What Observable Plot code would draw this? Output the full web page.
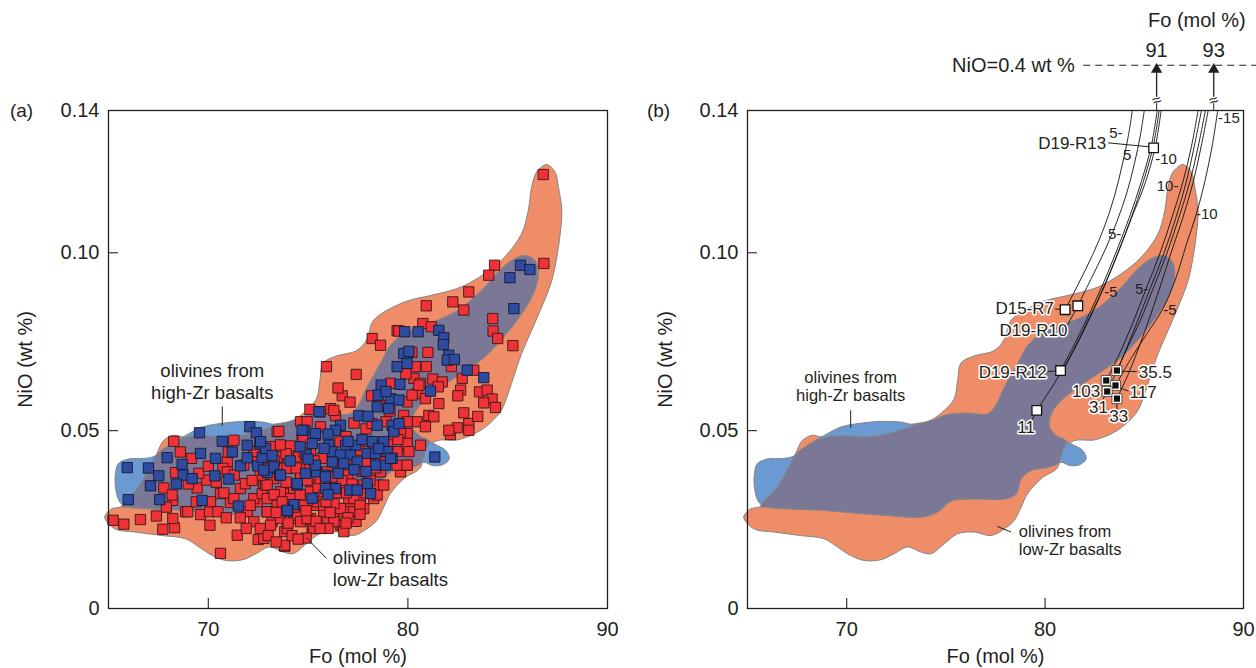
<!DOCTYPE html>
<html><head><meta charset="utf-8">
<script src="https://cdn.jsdelivr.net/npm/d3@7"></script>
<script src="https://cdn.jsdelivr.net/npm/@observablehq/plot@0.6"></script>
<style>
body{margin:0;background:#fff;}
#wrap{position:relative;width:1256px;height:668px;overflow:hidden;}
#wrap svg{position:absolute;top:0;}
</style></head><body><div id="wrap"></div>
<script>
// ---------- axes ----------
const yTicks = [0, 0.05, 0.10, 0.14];
const yTickLabels = ["0", "0.05", "0.10", "0.14"];
const xTicks = [70, 80, 90];
const xTickLabels = ["70", "80", "90"];
const innerXTicks = [70, 80];
const innerYTicks = [0.05, 0.10];
const xTitle = "Fo (mol %)";
const yTitle = "NiO (wt %)";

// ---------- fields [Fo, NiO] ----------
const lowZrField = [[64.81,0.0257],[65.15,0.0280],[65.66,0.0287],[66.50,0.0341],[67.17,0.0407],[67.42,0.0435],[67.76,0.0472],[68.27,0.0487],[68.77,0.0482],[69.70,0.0501],[71.38,0.0515],[72.73,0.0515],[73.40,0.0519],[74.24,0.0529],[74.92,0.0557],[75.42,0.0590],[75.59,0.0640],[75.76,0.0690],[76.43,0.0710],[77.44,0.0725],[77.95,0.0757],[78.28,0.0810],[79.80,0.0861],[81.14,0.0880],[82.15,0.0894],[82.83,0.0908],[83.84,0.0941],[84.85,0.0988],[85.69,0.1053],[86.03,0.1119],[86.20,0.1185],[86.45,0.1227],[86.95,0.1248],[87.37,0.1227],[87.54,0.1185],[87.71,0.1119],[87.63,0.1053],[87.46,0.0988],[87.21,0.0922],[86.70,0.0847],[86.20,0.0782],[85.69,0.0716],[85.35,0.0660],[85.02,0.0604],[84.68,0.0557],[84.17,0.0524],[83.50,0.0496],[82.49,0.0474],[81.48,0.0472],[80.81,0.0444],[80.64,0.0397],[79.80,0.0365],[79.12,0.0323],[78.79,0.0285],[78.45,0.0248],[77.95,0.0224],[77.27,0.0205],[76.43,0.0215],[75.59,0.0210],[74.92,0.0182],[74.24,0.0154],[73.74,0.0159],[73.06,0.0173],[72.39,0.0154],[71.72,0.0137],[70.88,0.0135],[70.20,0.0149],[69.53,0.0173],[68.86,0.0196],[67.68,0.0205],[66.33,0.0215],[65.32,0.0224]];
const highZrField = [[65.49,0.0407],[65.99,0.0420],[66.83,0.0422],[67.34,0.0429],[68.01,0.0458],[68.86,0.0486],[69.70,0.0510],[70.71,0.0521],[71.72,0.0526],[72.73,0.0524],[73.40,0.0517],[74.41,0.0531],[75.08,0.0545],[76.09,0.0549],[77.10,0.0547],[77.52,0.0571],[77.95,0.0622],[78.62,0.0688],[79.12,0.0739],[79.80,0.0772],[80.81,0.0796],[81.48,0.0810],[82.49,0.0838],[83.33,0.0875],[84.01,0.0913],[84.68,0.0955],[85.35,0.0983],[85.94,0.0992],[86.36,0.0978],[86.53,0.0941],[86.28,0.0885],[85.69,0.0828],[84.85,0.0767],[83.84,0.0707],[82.66,0.0660],[81.65,0.0622],[80.81,0.0585],[80.30,0.0547],[80.22,0.0510],[80.56,0.0486],[81.31,0.0463],[81.90,0.0444],[82.07,0.0421],[81.73,0.0404],[81.23,0.0402],[80.81,0.0411],[80.13,0.0397],[79.29,0.0388],[78.79,0.0365],[78.54,0.0322],[77.95,0.0308],[76.43,0.0308],[75.25,0.0302],[74.58,0.0271],[73.74,0.0257],[72.22,0.0261],[70.54,0.0268],[68.86,0.0276],[67.17,0.0280],[65.99,0.0285],[65.57,0.0299],[65.35,0.0341],[65.35,0.0379]];
const overlapField = [[65.66,0.0287],[66.50,0.0341],[67.17,0.0407],[67.42,0.0433],[68.01,0.0458],[68.86,0.0480],[69.70,0.0486],[70.88,0.0482],[72.05,0.0491],[72.89,0.0505],[73.40,0.0514],[74.41,0.0531],[75.08,0.0545],[76.09,0.0549],[77.10,0.0547],[77.52,0.0571],[77.95,0.0622],[78.62,0.0688],[79.12,0.0739],[79.80,0.0772],[80.81,0.0796],[81.48,0.0810],[82.49,0.0838],[83.33,0.0875],[84.01,0.0913],[84.68,0.0955],[85.35,0.0983],[85.94,0.0992],[86.36,0.0978],[86.53,0.0941],[86.28,0.0885],[85.69,0.0828],[84.85,0.0767],[83.84,0.0707],[82.66,0.0660],[81.65,0.0622],[80.81,0.0585],[80.30,0.0547],[80.22,0.0510],[80.56,0.0486],[81.06,0.0471],[80.89,0.0444],[80.64,0.0407],[80.13,0.0397],[79.29,0.0388],[78.79,0.0365],[78.54,0.0322],[77.95,0.0308],[76.43,0.0308],[75.25,0.0302],[74.58,0.0271],[73.74,0.0257],[72.22,0.0261],[70.54,0.0268],[68.86,0.0276],[67.17,0.0280],[65.99,0.0285]];

// ---------- panel (a) olivine analyses [Fo, NiO] ----------
const lowZrOlivines = [[65.23,0.0248],[65.77,0.0237],[67.72,0.0223],[68.31,0.0227],[68.22,0.0253],[68.27,0.0470],[69.16,0.0422],[68.36,0.0382],[67.77,0.0339],[68.22,0.0304],[69.44,0.0339],[69.91,0.0361],[68.86,0.0272],[69.61,0.0264],[70.06,0.0272],[70.08,0.0234],[70.61,0.0155],[71.45,0.0206],[72.50,0.0194],[73.83,0.0175],[71.28,0.0473],[70.95,0.0412],[70.73,0.0394],[70.61,0.0323],[71.11,0.0298],[71.95,0.0272],[71.61,0.0337],[72.45,0.0300],[72.41,0.0441],[72.78,0.0349],[72.28,0.0244],[72.95,0.0272],[73.45,0.0497],[73.50,0.0426],[73.87,0.0323],[73.83,0.0216],[74.70,0.0478],[74.28,0.0422],[74.62,0.0375],[75.21,0.0347],[74.62,0.0248],[75.21,0.0225],[75.29,0.0290],[74.28,0.0253],[73.20,0.0244],[73.62,0.0394],
[69.52,0.0380],[68.19,0.0319],[68.97,0.0272],[70.11,0.0300],[70.48,0.0272],[71.28,0.0309],[72.28,0.0309],[72.70,0.0323],[71.86,0.0351],[70.78,0.0325],[72.87,0.0347],[71.78,0.0403],[72.45,0.0412],[70.95,0.0384],[72.28,0.0441],[72.98,0.0394],
[79.46,0.0781],[78.21,0.0759],[78.63,0.0740],[75.92,0.0680],[77.41,0.0658],[76.71,0.0598],[78.18,0.0598],[79.13,0.0633],[75.09,0.0560],[76.12,0.0562],[76.37,0.0542],[74.62,0.0525],[73.53,0.0498],[74.75,0.0478],[75.62,0.0511],[79.79,0.0543],[79.96,0.0487],[79.96,0.0459],[72.95,0.0431],[73.45,0.0426],[74.12,0.0422],[74.53,0.0426],[75.12,0.0436],[75.71,0.0422],[72.95,0.0384],[73.28,0.0365],[73.95,0.0394],[74.62,0.0375],[74.95,0.0361],[75.96,0.0384],[76.62,0.0398],[77.62,0.0403],[78.13,0.0384],[78.63,0.0384],[79.46,0.0441],[79.63,0.0384],[72.95,0.0347],[73.62,0.0328],[74.28,0.0337],[75.12,0.0328],[75.96,0.0351],[76.62,0.0347],[77.29,0.0337],[77.79,0.0347],[78.29,0.0309],[77.62,0.0309],[72.95,0.0309],[73.45,0.0290],[74.12,0.0309],[74.78,0.0290],[75.46,0.0300],[76.12,0.0309],[76.62,0.0281],[77.12,0.0290],[72.95,0.0272],[73.62,0.0253],[74.45,0.0262],[75.12,0.0253],[75.79,0.0262],[76.29,0.0253],[76.79,0.0272],[77.79,0.0281],[73.12,0.0234],[73.95,0.0225],[74.62,0.0244],[75.21,0.0227],[76.62,0.0234],[75.96,0.0244],[73.82,0.0178],[72.78,0.0197],[77.04,0.0309],[78.46,0.0347],[78.88,0.0422],[79.96,0.0581],
[83.05,0.0890],[82.25,0.0862],[82.80,0.0839],[80.92,0.0851],[84.25,0.0815],[84.27,0.0780],[84.50,0.0759],[80.75,0.0801],[81.17,0.0792],[79.55,0.0780],[80.38,0.0680],[80.92,0.0680],[82.18,0.0680],[80.30,0.0647],[80.63,0.0633],[81.25,0.0645],[81.72,0.0637],[81.52,0.0623],[82.72,0.0647],[83.30,0.0670],[82.64,0.0614],[82.50,0.0598],[83.59,0.0609],[83.97,0.0614],[84.22,0.0589],[83.80,0.0578],[84.39,0.0565],[80.47,0.0604],[80.88,0.0590],[81.55,0.0576],[81.05,0.0543],[81.30,0.0539],[80.47,0.0525],[80.88,0.0511],[82.13,0.0489],[82.47,0.0508],[83.05,0.0520],[83.05,0.0501],[82.05,0.0501],[79.96,0.0492],[80.63,0.0459],[79.96,0.0464],[80.05,0.0441],[79.96,0.0403],[79.46,0.0403],[80.21,0.0600],[80.55,0.0628],
[86.78,0.1220],[86.81,0.0970],[84.34,0.0965],[84.05,0.0937],[85.26,0.0739],
[79.96,0.0525],[79.63,0.0497],[78.13,0.0431],[78.79,0.0412],[79.29,0.0487],[75.62,0.0553],[76.29,0.0557],[74.95,0.0525],[78.46,0.0319],[77.29,0.0272],[76.71,0.0234],[76.79,0.0216],[76.29,0.0244],[75.79,0.0272],[75.29,0.0225],[74.95,0.0253],[77.29,0.0309],[76.62,0.0281],[78.79,0.0347],[79.96,0.0403],[75.79,0.0290],
[73.3,0.0415],[74.9,0.0405],[76.3,0.0420],[77.0,0.0375],[77.9,0.0410],[76.9,0.0325],[75.5,0.0340],[74.3,0.0285],[73.3,0.0320],[76.0,0.0225],[74.9,0.0198],[75.8,0.0318],[77.4,0.0245],[76.3,0.0295],[73.9,0.0355],[75.1,0.0395],[77.5,0.0445],[78.3,0.0455],[74.1,0.0457],[76.9,0.0483],[77.9,0.0505],[78.9,0.0525],[79.1,0.0555],[78.6,0.0571],[77.3,0.0521],[76.6,0.0468],
[71.6,0.0255],[72.1,0.0290],[72.6,0.0225],[73.0,0.0205],[73.4,0.0270],[73.7,0.0300],[74.0,0.0240],[74.2,0.0205],[74.6,0.0320],[74.9,0.0275],[75.4,0.0245],[75.6,0.0225],[75.9,0.0300],[76.1,0.0270],[76.4,0.0325],[76.7,0.0360],[77.0,0.0255],[77.2,0.0350],[77.6,0.0290],[77.9,0.0325],[78.1,0.0360],[78.4,0.0395],[78.0,0.0470],[77.7,0.0385],[76.9,0.0420],[76.2,0.0370],[75.6,0.0365],[75.3,0.0415],[74.8,0.0440],[74.4,0.0395],[73.9,0.0435],[73.6,0.0460],[73.1,0.0455],[72.6,0.0375],[72.2,0.0360],[71.3,0.0375],[71.0,0.0440],[70.4,0.0355],[70.0,0.0400],[69.4,0.0300],[69.0,0.0350],[68.6,0.0440],[67.9,0.0285],[67.4,0.0260],[66.6,0.0250],[70.9,0.0255],[71.9,0.0225],[73.4,0.0187],[74.5,0.0195],[76.9,0.0240],[77.6,0.0265],[79.0,0.0460],[79.5,0.0475],[78.2,0.0520],[77.1,0.0580],[76.5,0.0620],[79.9,0.0660],[80.2,0.0720],[81.0,0.0720],[82.8,0.0550],[83.5,0.0540]];
const highZrOlivines = [[65.94,0.0396],[65.99,0.0306],[69.56,0.0494],[72.08,0.0511],[72.41,0.0494],[71.95,0.0459],[72.58,0.0462],[67.94,0.0424],[69.61,0.0436],[68.69,0.0405],[67.52,0.0373],[67.10,0.0345],[67.57,0.0306],[68.74,0.0375],[69.19,0.0365],[69.69,0.0304],[70.36,0.0422],[70.33,0.0373],[71.03,0.0364],[71.61,0.0401],[71.95,0.0424],[71.50,0.0288],[72.48,0.0401],[72.70,0.0425],[72.95,0.0382],[73.28,0.0398],[73.58,0.0375],[74.79,0.0501],[75.37,0.0487],[74.90,0.0433],[75.42,0.0384],[74.45,0.0347],[74.28,0.0292],[73.98,0.0274],
[79.84,0.0778],[79.79,0.0717],[79.46,0.0680],[79.96,0.0689],[78.66,0.0628],[78.51,0.0600],[79.13,0.0590],[79.04,0.0562],[78.46,0.0567],[77.54,0.0542],[75.54,0.0553],[78.46,0.0515],[79.21,0.0515],[76.62,0.0515],[78.21,0.0469],[78.79,0.0469],[79.29,0.0497],[74.70,0.0501],[75.37,0.0492],[76.37,0.0501],[76.04,0.0459],[76.87,0.0459],[77.37,0.0459],[75.21,0.0464],[76.21,0.0441],[76.62,0.0431],[77.12,0.0431],[77.96,0.0436],[78.38,0.0436],[78.96,0.0441],[79.21,0.0422],[77.46,0.0412],[76.21,0.0412],[76.79,0.0408],[78.38,0.0403],[78.88,0.0403],[75.37,0.0403],[75.87,0.0375],[74.87,0.0380],[74.45,0.0351],[73.62,0.0375],[72.78,0.0389],[72.87,0.0450],[72.62,0.0469],[76.37,0.0337],[75.87,0.0337],[77.09,0.0333],[77.96,0.0351],[78.13,0.0323],[73.95,0.0276],
[80.51,0.0778],[81.55,0.0782],[81.80,0.0761],[81.77,0.0742],[80.05,0.0723],[82.05,0.0712],[81.97,0.0698],[82.33,0.0700],[82.97,0.0670],[83.80,0.0649],[81.13,0.0611],[79.55,0.0586],[79.55,0.0520],[81.35,0.0426],
[85.64,0.0965],[86.11,0.0953],[85.11,0.0930],[85.31,0.0843],
[77.46,0.0333],[75.87,0.0370],[79.13,0.0422],[78.54,0.0450],
[74.1,0.0415],[74.6,0.0455],[75.0,0.0420],[75.8,0.0450],[76.0,0.0490],[76.5,0.0380],[77.0,0.0470],[77.7,0.0475],[77.9,0.0385],[78.0,0.0540],[78.9,0.0610],[79.6,0.0630],[77.3,0.0390],[76.0,0.0320],[75.2,0.0310],[73.2,0.0430],[71.2,0.0440],[70.7,0.0470],[68.4,0.0350],[67.0,0.0395]];

// field labels
const fieldLabelText = ["olivines from\nhigh-Zr basalts", "olivines from\nlow-Zr basalts"];
const fieldLabelFoA = [70.2, 76.24];
const fieldLabelNiOA = [0.0641, 0.0115];
const fieldLabelFoB = [70.2, 78.67];
const fieldLabelNiOB = [0.0625, 0.0193];
const fieldLabelAnchor = ["middle", "start"];
const fieldLeadersA = [[70.7,0.0568,70.7,0.0514],[75.9,0.0142,74.9,0.0200]];
const fieldLeadersB = [[70.2,0.0557,70.2,0.0508],[78.28,0.0215,77.58,0.0231]];

// ---------- panel (b) samples ----------
const openSampleNames = ["D19-R13","D15-R7","D19-R10","D19-R12","11"];
const openSampleFo = [85.47,81.01,81.65,80.78,79.58];
const openSampleNiO = [0.1295,0.0840,0.0851,0.0669,0.0557];
const closedSampleNames = ["35.5","103","117","31","33"];
const closedSampleFo = [83.62,83.08,83.55,83.13,83.62];
const closedSampleNiO = [0.0669,0.0641,0.0627,0.0610,0.0590];
const sampleLabelText = ["D19-R13","D15-R7","D19-R10","D19-R12","11","35.5","103","117","31","33"];
const sampleLabelFo = [83.08,80.45,79.41,80.08,79.04,84.72,82.78,84.26,82.69,83.71];
const sampleLabelNiO = [0.1306,0.0842,0.0782,0.0664,0.0510,0.0664,0.0611,0.0607,0.0565,0.0541];
const sampleLabelAnchor = ["end","end","middle","end","middle","start","end","start","middle","middle"];
const sampleLeaders = [[83.18,0.1309,85.25,0.1298],[80.5,0.0842,80.75,0.0841],[81.06,0.0790,81.55,0.0840],[80.13,0.0666,80.57,0.0668],[79.35,0.0530,79.5,0.0550],[83.85,0.0667,84.62,0.0666],[82.85,0.0625,82.98,0.0633],[83.7,0.0622,84.2,0.0611],[82.9,0.0585,83.05,0.0603],[83.62,0.0557,83.62,0.0580]];

// fractional crystallization paths (toward Fo 91 and Fo 93 at NiO = 0.4 wt %)
const pathsTo91 = [
  [[81.01,0.0840],[81.7,0.0915],[82.4,0.0995],[83.0,0.1075],[83.5,0.1160],[83.9,0.1250],[84.2,0.1330],[84.4,0.1400]],
  [[81.65,0.0851],[82.3,0.0925],[83.0,0.1005],[83.6,0.1085],[84.1,0.1165],[84.5,0.1250],[84.8,0.1330],[85.0,0.1400]],
  [[79.58,0.0557],[80.2,0.0610],[80.9,0.0672],[81.6,0.0745],[82.3,0.0825],[83.0,0.0910],[83.7,0.1005],[84.35,0.1100],[84.95,0.1200],[85.45,0.1300],[85.75,0.1400]],
  [[80.78,0.0669],[81.5,0.0745],[82.2,0.0825],[82.9,0.0910],[83.6,0.1005],[84.25,0.1100],[84.85,0.1200],[85.35,0.1300],[85.65,0.1400]],
  [[80.85,0.0664],[81.6,0.0742],[82.3,0.0822],[83.0,0.0907],[83.7,0.1002],[84.35,0.1097],[85.05,0.1197],[85.55,0.1297],[85.85,0.1400]]
];
const pathsTo93 = [
  [[83.08,0.0641],[83.7,0.0710],[84.4,0.0800],[85.1,0.0900],[85.8,0.1000],[86.4,0.1100],[86.95,0.1200],[87.38,0.1300],[87.71,0.1400]],
  [[83.13,0.0610],[83.8,0.0690],[84.6,0.0800],[85.3,0.0900],[86.0,0.1000],[86.6,0.1100],[87.12,0.1200],[87.52,0.1300],[87.88,0.1400]],
  [[83.62,0.0669],[84.2,0.0740],[84.8,0.0810],[85.45,0.0900],[86.15,0.1000],[86.75,0.1100],[87.3,0.1200],[87.72,0.1300],[88.08,0.1400]],
  [[83.62,0.0590],[84.2,0.0660],[84.9,0.0760],[85.65,0.0880],[86.35,0.1000],[86.95,0.1100],[87.47,0.1200],[87.87,0.1300],[88.22,0.1400]],
  [[83.55,0.0627],[84.3,0.0700],[85.1,0.0770],[85.94,0.0843],[86.6,0.0930],[87.1,0.1020],[87.63,0.1110],[88.05,0.1200],[88.42,0.1300],[88.7,0.1400]]
];
const pctText = ["5-","5","-10","10-","-10","5-","-5","5-","-5","-15"];
const pctFo = [83.9,84.14,85.55,86.72,87.6,83.84,82.98,85.2,85.95,88.72];
const pctNiO = [0.1335,0.1275,0.1262,0.1186,0.1108,0.1053,0.0889,0.0899,0.0838,0.1378];
const pctAnchor = ["end","middle","start","end","start","end","start","end","start","start"];

// broken-axis annotation above panel (b)
const arrowFo = [85.62, 88.5];
const arrowLabels = ["91", "93"];
const topAxisTitle = "Fo (mol %)";
const topAxisTitleFo = 87.65;
const niO04Label = "NiO=0.4 wt %";
const niO04Row = 0.1527;      // plotted height of NiO = 0.4 wt % on the broken axis
const niO04RowFo = [81.95, 90.7];
const arrowLabelRow = 0.1569;
const topTitleRow = 0.1652;
const breakRow = 0.1428;
const stemRange = [0.1400, 0.1419];
const arrowRange = [0.1437, 0.1515];

// ---------- drawing ----------
const FONT = '"Liberation Sans", Arial, Helvetica, sans-serif';
const INK = "#231f20";
const ORANGE = "#EE8D67", BLUE = "#6B99D1", PURPLE = "#7B7897", OUTLINE = "#858585";
const fo = d => d[0], ni = d => d[1];
const idx = a => a.map((_, i) => i);

function fieldMarks() {
  return [lowZrField, highZrField, overlapField].map((poly, i) =>
    Plot.line(poly, {x: fo, y: ni, curve: "catmull-rom-closed", fill: [ORANGE, BLUE, PURPLE][i], stroke: OUTLINE, strokeWidth: 1}));
}
// text with per-item anchors (textAnchor must be constant per mark)
function anchoredText(texts, xs, ys, anchors, opts) {
  return ["start", "middle", "end"].map(a =>
    Plot.text(idx(texts).filter(i => anchors[i] === a),
      {x: i => xs[i], y: i => ys[i], text: i => texts[i], textAnchor: a, lineAnchor: "middle", fill: INK, ...opts}));
}
function axisMarks(letter, letterDx, titleDx) {
  return [
    Plot.frame({stroke: INK, strokeWidth: 1.3}),
    Plot.ruleY(innerYTicks, {x1: 65, x2: 65.5, stroke: INK, strokeWidth: 1.1}),
    Plot.ruleX(innerXTicks, {y1: 0, y2: 0.0028, stroke: INK, strokeWidth: 1.1}),
    Plot.axisY(yTicks, {tickSize: 0, tickPadding: 9, tickFormat: d => yTickLabels[yTicks.indexOf(d)], fontSize: 20, label: null, fill: INK}),
    Plot.axisX(xTicks, {tickSize: 0, tickPadding: 13, tickFormat: d => xTickLabels[xTicks.indexOf(d)], fontSize: 20, label: null, fill: INK}),
    Plot.text([xTitle], {text: d => d, frameAnchor: "bottom", dy: 48, fontSize: 20, lineAnchor: "middle", fill: INK}),
    Plot.text([yTitle], {text: d => d, frameAnchor: "left", dx: titleDx, rotate: -90, fontSize: 20, textAnchor: "middle", lineAnchor: "middle", fill: INK}),
    Plot.text([letter], {text: d => d, frameAnchor: "top-left", dx: letterDx, fontSize: 19, textAnchor: "middle", lineAnchor: "middle", fill: INK})
  ];
}
function linkMarks(arr) {
  return Plot.link(arr, {x1: d => d[0], y1: d => d[1], x2: d => d[2], y2: d => d[3], stroke: INK, strokeWidth: 1});
}
function panel(marginLeft, marginRight, marks) {
  return Plot.plot({
    width: 628, height: 668, marginLeft, marginRight, marginTop: 110, marginBottom: 60,
    x: {domain: [65, 90]}, y: {domain: [0, 0.14]},
    style: {fontFamily: FONT, fontSize: "20px", color: INK, background: "transparent", overflow: "visible"},
    marks
  });
}

const left = panel(108, 21, [
  ...fieldMarks(),
  Plot.dot(lowZrOlivines, {x: fo, y: ni, symbol: "square", r: 5.8, fill: "#EE3237", stroke: "#3a1717", strokeWidth: 0.9}),
  Plot.dot(highZrOlivines, {x: fo, y: ni, symbol: "square", r: 5.8, fill: "#2E4B9F", stroke: "#151a33", strokeWidth: 0.9}),
  linkMarks(fieldLeadersA),
  ...anchoredText(fieldLabelText, fieldLabelFoA, fieldLabelNiOA, fieldLabelAnchor, {lineHeight: 1.2, fontSize: 18.5}),
  ...axisMarks("(a)", -87, -83)
]);

const pathRows = [...pathsTo91, ...pathsTo93].flatMap((pts, k) => pts.map(p => ({fo: p[0], ni: p[1], k})));
const openIdx = idx(openSampleNames), closedIdx = idx(closedSampleNames);

const right = panel(119, 13, [
  ...fieldMarks(),
  Plot.line(pathRows, {x: "fo", y: "ni", z: "k", curve: "catmull-rom", stroke: "#111", strokeWidth: 0.9}),
  linkMarks(fieldLeadersB),
  ...anchoredText(fieldLabelText, fieldLabelFoB, fieldLabelNiOB, fieldLabelAnchor, {lineHeight: 1.12, fontSize: 16.5}),
  linkMarks(sampleLeaders),
  ...anchoredText(pctText, pctFo, pctNiO, pctAnchor, {fontSize: 15}),
  ...anchoredText(sampleLabelText, sampleLabelFo, sampleLabelNiO, sampleLabelAnchor, {fontSize: 17, stroke: "white", strokeWidth: 3, paintOrder: "stroke"}),
  Plot.dot(openIdx, {x: i => openSampleFo[i], y: i => openSampleNiO[i], symbol: "square", r: 5.4, fill: "white", stroke: "#111", strokeWidth: 1.3}),
  Plot.dot(closedIdx, {x: i => closedSampleFo[i], y: i => closedSampleNiO[i], symbol: "square", r: 5.6, fill: "white", stroke: "#111", strokeWidth: 0.6}),
  Plot.dot(closedIdx, {x: i => closedSampleFo[i], y: i => closedSampleNiO[i], symbol: "square", r: 3.5, fill: "#111"}),
  // broken axis annotation
  Plot.ruleX(arrowFo, {y1: stemRange[0], y2: stemRange[1], stroke: INK, strokeWidth: 1}),
  Plot.text(arrowFo, {x: d => d, y: breakRow, text: () => "≈", fontSize: 16, rotate: -20, fill: INK}),
  Plot.ruleX(arrowFo, {y1: arrowRange[0], y2: arrowRange[1], stroke: INK, strokeWidth: 1.3}),
  Plot.dot(arrowFo, {x: d => d, y: arrowRange[1], symbol: "triangle", r: 4.2, fill: INK}),
  Plot.ruleY([niO04Row], {x1: niO04RowFo[0], x2: niO04RowFo[1], stroke: INK, strokeWidth: 1.1, strokeDasharray: "7,5"}),
  Plot.text([niO04Label], {x: niO04RowFo[0] - 0.45, y: niO04Row, text: d => d, textAnchor: "end", lineAnchor: "middle", fontSize: 20, fill: INK}),
  Plot.text(idx(arrowLabels), {x: i => arrowFo[i], y: arrowLabelRow, text: i => arrowLabels[i], lineAnchor: "middle", fontSize: 20, fill: INK}),
  Plot.text([topAxisTitle], {x: topAxisTitleFo, y: topTitleRow, text: d => d, lineAnchor: "middle", fontSize: 20, fill: INK}),
  ...axisMarks("(b)", -89, -82)
]);

const wrap = document.getElementById("wrap");
left.style.left = "0px";
right.style.left = "628px";
wrap.appendChild(left);
wrap.appendChild(right);
</script></body></html>
